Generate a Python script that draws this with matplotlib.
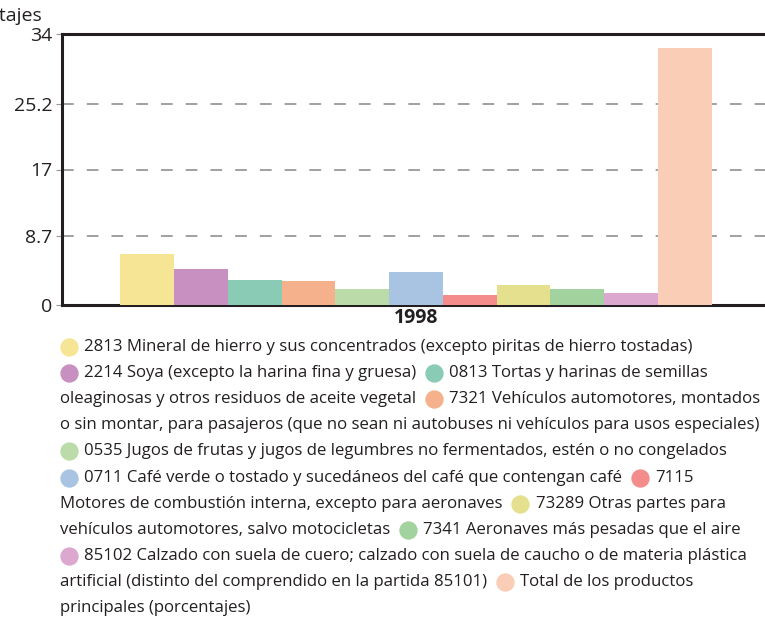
import matplotlib
matplotlib.use('Agg')
import matplotlib.pyplot as plt
from matplotlib.lines import Line2D
import numpy as np

plt.rcParams['font.family'] = ['Open Sans', 'DejaVu Sans']

# Datos del gráfico (año 1998)
year_label = '1998'
valores = [6.4, 4.5, 3.1, 3.0, 2.0, 4.1, 1.25, 2.5, 2.0, 1.5, 32.2]
colores = ['#f7e596', '#c890c0', '#8acbb5', '#f5b08c', '#bbdca8', '#a8c4e2',
           '#f48c8c', '#e5e08e', '#a2d39e', '#dca8cf', '#facdb6']
y_ticks = [0, 8.7, 17, 25.2, 34]
y_tick_labels = ['0', '8.7', '17', '25.2', '34']
y_label = 'Porcentajes'

# Leyenda: líneas tal como se cortan en la imagen (int = índice de color)
legend_lines = [
    [0, '2813 Mineral de hierro y sus concentrados (excepto piritas de hierro tostadas)'],
    [1, '2214 Soya (excepto la harina fina y gruesa)', 2, '0813 Tortas y harinas de semillas'],
    ['oleaginosas y otros residuos de aceite vegetal', 3, '7321 Vehículos automotores, montados'],
    ['o sin montar, para pasajeros (que no sean ni autobuses ni vehículos para usos especiales)'],
    [4, '0535 Jugos de frutas y jugos de legumbres no fermentados, estén o no congelados'],
    [5, '0711 Café verde o tostado y sucedáneos del café que contengan café', 6, '7115'],
    ['Motores de combustión interna, excepto para aeronaves', 7, '73289 Otras partes para'],
    ['vehículos automotores, salvo motocicletas', 8, '7341 Aeronaves más pesadas que el aire'],
    [9, '85102 Calzado con suela de cuero; calzado con suela de caucho o de materia plástica'],
    ['artificial (distinto del comprendido en la partida 85101)', 10, 'Total de los productos'],
    ['principales (porcentajes)'],
]

W, H = 765, 624
fig = plt.figure(figsize=(W / 100, H / 100), dpi=100)
ax = fig.add_axes([62 / W, 1 - 305 / H, (770 - 62) / W, (305 - 34) / H])

n = len(valores)
offsets = np.arange(n) - (n - 1) / 2
ax.bar(offsets, valores, width=1.0, color=colores, zorder=3)

ax.set_ylim(0, 34)
ax.set_xlim(-n / 2 - 1.08, n / 2 + 1.08)
ax.set_yticks(y_ticks)
ax.set_yticklabels(y_tick_labels, fontsize=14, color='#231f20')
ax.set_xticks([0])
ax.set_xticklabels([year_label], fontsize=14, fontweight='bold', color='#231f20')
ax.tick_params(axis='x', length=0, pad=2)
ax.tick_params(axis='y', length=4, color='#999999', pad=3)

for v in y_ticks[1:-1]:
    ax.axhline(v, color='#999999', lw=1.3, dashes=(6.5, 7.2), zorder=1)

for s in ['left', 'top', 'bottom']:
    ax.spines[s].set_linewidth(2.2)
    ax.spines[s].set_color('#231f20')
ax.spines['right'].set_visible(False)

# la etiqueta del eje queda recortada por el borde, como en el original
fig.text(42 / W, 1 - 16 / H, y_label, fontsize=14, ha='right', va='center', color='#231f20')

# Leyenda en flujo de texto
renderer = fig.canvas.get_renderer()

def ancho(s, size):
    t = fig.text(0, 0, s, fontsize=size)
    w = t.get_window_extent(renderer).width
    t.remove()
    return w

# ajustar el tamaño para que la línea más larga ocupe ~702 px
leg_size = 10 * 702 / ancho(legend_lines[3][0], 10)

y0 = 347
dy = 26.1
for i, linea in enumerate(legend_lines):
    y = y0 + i * dy
    x = 60
    for seg in linea:
        if isinstance(seg, int):
            fig.add_artist(Line2D([(x + 8.5) / W], [1 - y / H], marker='o', markersize=12.2,
                                  color=colores[seg], transform=fig.transFigure))
            x += 17 + 7
        else:
            fig.text(x / W, 1 - y / H, seg, fontsize=leg_size, va='center', ha='left',
                     color='#231f20')
            x += ancho(seg, leg_size) + 9

fig.savefig('out.png', dpi=100)
